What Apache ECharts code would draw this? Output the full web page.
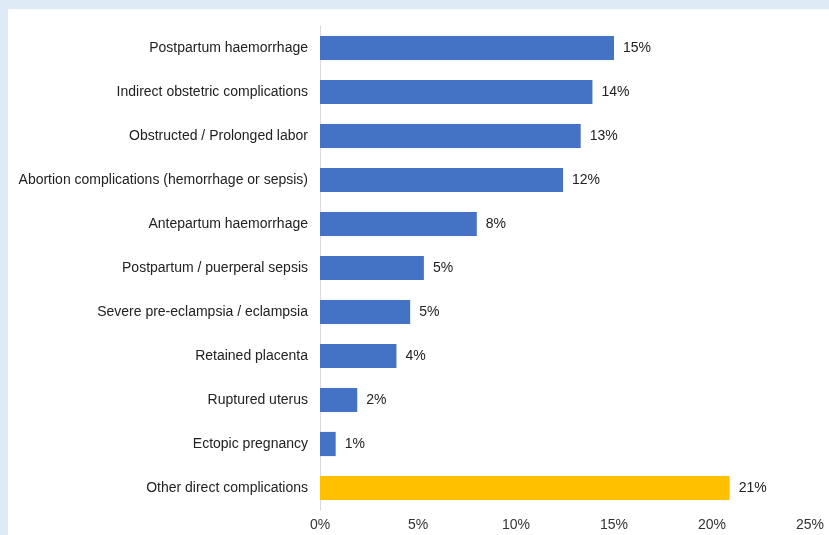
<!DOCTYPE html>
<html>
<head>
<meta charset="utf-8">
<script src="https://cdn.jsdelivr.net/npm/echarts@6/dist/echarts.min.js"></script>
<style>
html,body{margin:0;padding:0;background:#deebf7;width:829px;height:535px;overflow:hidden;}
#panel{position:absolute;left:8px;top:9px;width:821px;height:526px;background:#ffffff;}
#chart{position:absolute;left:0;top:0;width:829px;height:535px;}
</style>
</head>
<body>
<div id="panel"></div>
<div id="chart"></div>
<script>
const categories = [
  "Postpartum haemorrhage",
  "Indirect obstetric complications",
  "Obstructed / Prolonged labor",
  "Abortion complications (hemorrhage or sepsis)",
  "Antepartum haemorrhage",
  "Postpartum / puerperal sepsis",
  "Severe pre-eclampsia / eclampsia",
  "Retained placenta",
  "Ruptured uterus",
  "Ectopic pregnancy",
  "Other direct complications"
];
const values = [15.0, 13.9, 13.3, 12.4, 8.0, 5.3, 4.6, 3.9, 1.9, 0.8, 20.9];
const valueLabels = ["15%", "14%", "13%", "12%", "8%", "5%", "5%", "4%", "2%", "1%", "21%"];
const highlightIndex = 10;
const xTicks = [0, 5, 10, 15, 20, 25];

const chart = echarts.init(document.getElementById('chart'), null, {renderer: 'canvas'});
const font = '"Liberation Sans", Arial, sans-serif';
chart.setOption({
  backgroundColor: 'transparent',
  animation: false,
  grid: {left: 320, right: 19, top: 26, bottom: 25, containLabel: false},
  xAxis: {
    type: 'value',
    min: xTicks[0], max: xTicks[xTicks.length - 1], interval: 5,
    axisLine: {show: false},
    axisTick: {show: false},
    splitLine: {show: false},
    axisLabel: {formatter: v => v + '%', color: '#333333', fontSize: 14, fontFamily: font, margin: 8}
  },
  yAxis: {
    type: 'category',
    data: categories,
    inverse: true,
    axisLine: {show: true, lineStyle: {color: '#d9d9d9', width: 1}},
    axisTick: {show: false},
    axisLabel: {color: '#222222', fontSize: 14, fontFamily: font, margin: 12}
  },
  series: [{
    type: 'bar',
    barCategoryGap: '45%',
    data: values.map((v, i) => ({
      value: v,
      itemStyle: {color: i === highlightIndex ? '#ffc000' : '#4472c4'}
    })),
    label: {
      show: true, position: 'right', distance: 9,
      color: '#222222', fontSize: 14, fontFamily: font,
      formatter: p => valueLabels[p.dataIndex]
    }
  }]
});
</script>
</body>
</html>
